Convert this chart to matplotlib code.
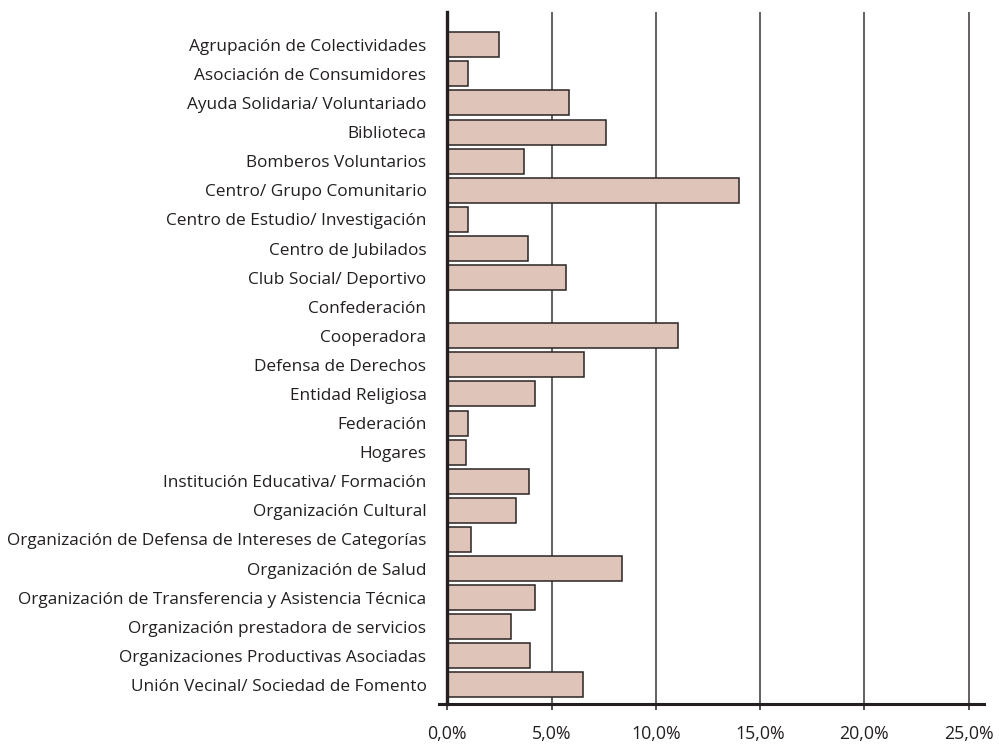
import matplotlib.pyplot as plt
from matplotlib.ticker import FuncFormatter

# categories and percentage values
categories = [
    "Agrupación de Colectividades",
    "Asociación de Consumidores",
    "Ayuda Solidaria/ Voluntariado",
    "Biblioteca",
    "Bomberos Voluntarios",
    "Centro/ Grupo Comunitario",
    "Centro de Estudio/ Investigación",
    "Centro de Jubilados",
    "Club Social/ Deportivo",
    "Confederación",
    "Cooperadora",
    "Defensa de Derechos",
    "Entidad Religiosa",
    "Federación",
    "Hogares",
    "Institución Educativa/ Formación",
    "Organización Cultural",
    "Organización de Defensa de Intereses de Categorías",
    "Organización de Salud",
    "Organización de Transferencia y Asistencia Técnica",
    "Organización prestadora de servicios",
    "Organizaciones Productivas Asociadas",
    "Unión Vecinal/ Sociedad de Fomento",
]
values = [2.46, 0.98, 5.86, 7.61, 3.68, 13.99, 0.98, 3.87, 5.68, 0.0,
          11.05, 6.57, 4.19, 0.98, 0.91, 3.90, 3.28, 1.15, 8.37, 4.19,
          3.07, 3.98, 6.49]
xticks = [0, 5, 10, 15, 20, 25]

plt.rcParams['font.family'] = ['Open Sans', 'DejaVu Sans']

fig = plt.figure(figsize=(9.99, 7.44), dpi=100)
ax = fig.add_axes([0.4477, 0.0538, 0.9853 - 0.4477, 0.9832 - 0.0538])

pos = list(range(len(categories)))
ax.barh(pos, values, height=0.86, color='#dfc5b9', edgecolor='#2b2424',
        linewidth=1.1, zorder=3)

ax.set_xlim(0, 25.75)
ax.set_ylim(22.656, -1.11)

ax.set_yticks(pos)
ax.set_yticklabels(categories, fontsize=12.4, color='#231f20')
ax.tick_params(axis='y', length=0, pad=15)

ax.set_xticks(xticks)
ax.xaxis.set_major_formatter(FuncFormatter(lambda v, p: f"{v:.1f}%".replace('.', ',')))
ax.tick_params(axis='x', length=4.5, width=1.1, direction='out', pad=10.5,
               labelsize=12.8, labelcolor='#231f20', color='#231f20')

ax.grid(axis='x', color='#3a3636', linewidth=1.1, zorder=0)
ax.set_axisbelow(True)

for s in ['top', 'right']:
    ax.spines[s].set_visible(False)
ax.spines['left'].set_linewidth(2.4)
ax.spines['left'].set_color('#231f20')
ax.spines['bottom'].set_linewidth(2.2)
ax.spines['bottom'].set_color('#231f20')
ax.spines['bottom'].set_bounds(-0.4, 25.75)
ax.spines['left'].set_zorder(4)

plt.savefig("out.png", dpi=100)
